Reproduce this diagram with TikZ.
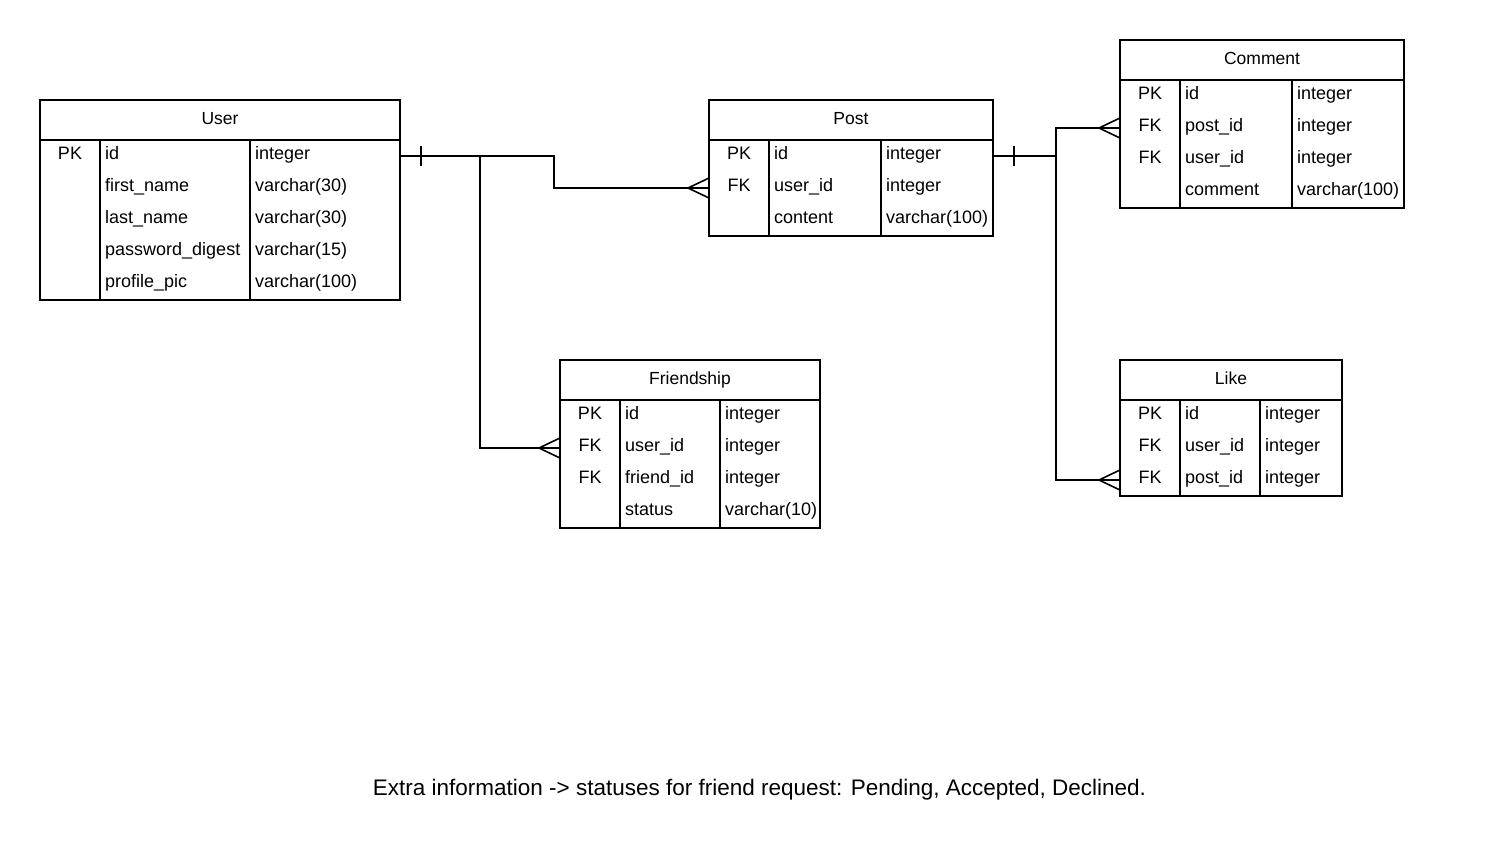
\documentclass[tikz,border=0pt]{standalone}
\usepackage{fontspec}
\setmainfont{Liberation Sans}
\newcommand\ertable[8]{%
  \def\tL{#2}\def\tT{#3}\def\tdA{#4}\def\tdB{#5}\def\tR{#6}%
  \pgfmathsetmacro\tb{#3+40+32*#8}%
  \node[tbl, minimum width={#6-#2}, minimum height={40+32*#8}] (#1) at (#2,#3) {};
  \node[ttl] (#1-t) at ({(#2+#6)/2},{#3+24}) {#7};
  \draw[ln] ({#2},{#3+40}) -- ({#6},{#3+40});
  \draw[ln] ({#4},{#3+40}) -- ({#4},\tb);
  \draw[ln] ({#5},{#3+40}) -- ({#5},\tb);
}
\newcommand\errow[5]{%
  \pgfmathsetmacro\ry{\tT+40+32*#2-16}%
  \node[rowa, minimum width={\tR-\tL}] (#1-#2) at ({(\tL+\tR)/2},{\ry}) {};
  \node[key] (#1-#2k) at ({(\tL+\tdA)/2},{\ry+3.5}) {#3};
  \node[cell] (#1-#2f) at ({\tdA+5},{\ry+3.5}) {#4};
  \node[cell] (#1-#2y) at ({\tdB+5},{\ry+3.5}) {#5};
}
\newcommand\crowfoot[1]{%
  \draw[ln] ([yshift=10pt]#1) -- ([xshift=-21pt]#1) -- ([yshift=-10pt]#1);
}
\newcommand\onebar[1]{%
  \draw[ln] ([xshift=21pt,yshift=10pt]#1) -- ([xshift=21pt,yshift=-10pt]#1);
}
\begin{document}
\begin{tikzpicture}[x=1pt,y=-1pt,
  ln/.style={line width=1.6pt, black},
  tbl/.style={draw, line width=1.6pt, rectangle, inner sep=0pt, outer sep=0pt, anchor=north west},
  ttl/.style={font=\fontsize{17.5}{21}\selectfont, anchor=base, inner sep=0pt},
  cell/.style={font=\fontsize{18}{21}\selectfont, anchor=base west, inner sep=0pt},
  key/.style={font=\fontsize{18}{21}\selectfont, anchor=base, inner sep=0pt},
  rowa/.style={inner sep=0pt, outer sep=0pt, minimum height=32pt},
  note/.style={font=\fontsize{22.5}{27}\selectfont, anchor=base, inner sep=0pt}]
\useasboundingbox[fill=white] (0,0) rectangle (1500,860);

% User
\ertable{user}{40}{100}{100}{250}{400}{User}{5}
\errow{user}{1}{PK}{id}{integer}
\errow{user}{2}{}{first\_name}{varchar(30)}
\errow{user}{3}{}{last\_name}{varchar(30)}
\errow{user}{4}{}{password\_digest}{varchar(15)}
\errow{user}{5}{}{profile\_pic}{varchar(100)}

% Post
\ertable{post}{709}{100}{769}{881}{993}{Post}{3}
\errow{post}{1}{PK}{id}{integer}
\errow{post}{2}{FK}{user\_id}{integer}
\errow{post}{3}{}{content}{varchar(100)}

% Comment
\ertable{cm}{1120}{40}{1180}{1292}{1404}{Comment}{4}
\errow{cm}{1}{PK}{id}{integer}
\errow{cm}{2}{FK}{post\_id}{integer}
\errow{cm}{3}{FK}{user\_id}{integer}
\errow{cm}{4}{}{comment}{varchar(100)}

% Friendship
\ertable{fr}{560}{360}{620}{720}{820}{Friendship}{4}
\errow{fr}{1}{PK}{id}{integer}
\errow{fr}{2}{FK}{user\_id}{integer}
\errow{fr}{3}{FK}{friend\_id}{integer}
\errow{fr}{4}{}{status}{varchar(10)}

% Like
\ertable{lk}{1120}{360}{1180}{1260}{1342}{Like}{3}
\errow{lk}{1}{PK}{id}{integer}
\errow{lk}{2}{FK}{user\_id}{integer}
\errow{lk}{3}{FK}{post\_id}{integer}

% connectors
\coordinate (ub) at ([xshift=80pt]user-1.east);
\draw[ln] (user-1.east) -- ++(154,0) |- (post-2.west);
\draw[ln] (ub) |- (fr-2.west);
\onebar{user-1.east}
\crowfoot{post-2.west}
\crowfoot{fr-2.west}

\coordinate (pb) at ([xshift=63pt]post-1.east);
\draw[ln] (post-1.east) -- (pb);
\draw[ln] (cm-2.west) -| (pb) |- (lk-3.west);
\onebar{post-1.east}
\crowfoot{cm-2.west}
\crowfoot{lk-3.west}

\node[note] (info) at (759.5,795) {Extra information -> statuses for friend request: Pending, Accepted, Declined.};
\end{tikzpicture}
\end{document}
